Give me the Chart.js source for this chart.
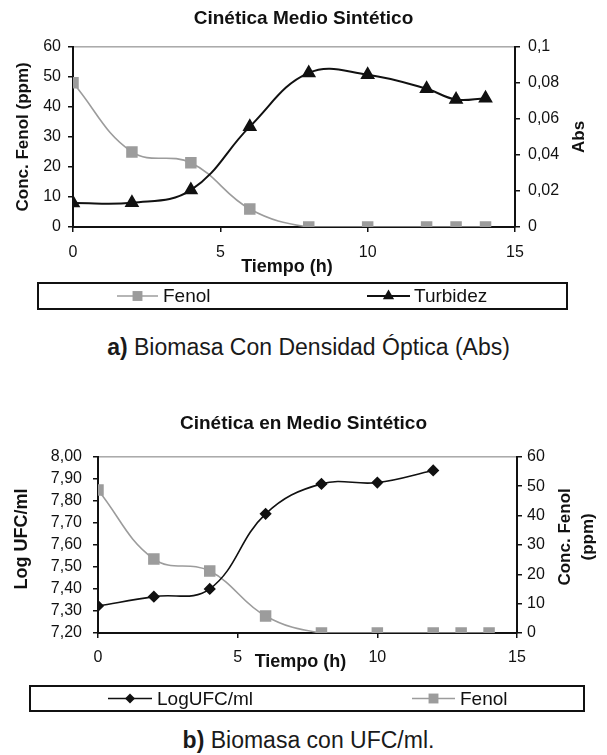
<!DOCTYPE html>
<html>
<head>
<meta charset="utf-8">
<script src="https://cdn.jsdelivr.net/npm/chart.js@4.4.1/dist/chart.umd.min.js"></script>
<style>
    body { margin: 0; background: #fff; }
    #page { position: relative; width: 607px; height: 755px; font-family: 'Liberation Sans', Arial, sans-serif; color: #1a1a1a; }
    .wrap { position: absolute; left: 0; width: 607px; }
    #wrapA { top: 0; height: 320px; }
    #wrapB { top: 390px; height: 335px; }
    .caption { position: absolute; left: 10px; width: 597px; text-align: center; font-size: 23px; line-height: 26px; }
</style>
</head>
<body>
<div id="page">
    <div class="wrap" id="wrapA"><canvas id="chartA" width="607" height="320"></canvas></div>
    <div class="caption" style="top:334px"><b>a)</b> Biomasa Con Densidad Óptica (Abs)</div>
    <div class="wrap" id="wrapB"><canvas id="chartB" width="607" height="335"></canvas></div>
    <div class="caption" style="top:727px"><b>b)</b> Biomasa con UFC/ml.</div>
</div>
<script>
// chart a) - turbidity
const timeA = [0, 2, 4, 6, 8, 10, 12, 13, 14];
const fenolA = [48, 25, 21.4, 6, 0, 0, 0, 0, 0];
const turbidezA = [0.0133, 0.0135, 0.0205, 0.0557, 0.0855, 0.0845, 0.0767, 0.0707, 0.0715];

// chart b) - UFC counts
const timeB = [0, 2, 4, 6, 8, 10, 12, 13, 14];
const logUfcB = [7.323, 7.365, 7.400, 7.741, 7.877, 7.883, 7.938];
const fenolB = [48.7, 25.2, 21.1, 5.8, 0, 0, 0, 0, 0];

const timeTicks = [0, 5, 10, 15];
const logUfcTicks = [7.2, 7.3, 7.4, 7.5, 7.6, 7.7, 7.8, 7.9, 8.0];

const FONT = "'Liberation Sans', Arial, sans-serif";
const GRAY = '#9c9c9c';

Chart.defaults.font.family = FONT;
Chart.defaults.color = '#111';

function toPoints(xs, ys) {
    return ys.map((y, i) => ({ x: xs[i], y: y }));
}

function comma(v, digits) {
    return (digits === undefined ? String(+v.toFixed(2)) : v.toFixed(digits)).replace('.', ',');
}

function drawMarker(ctx, style, x, y, r, color) {
    ctx.fillStyle = color;
    ctx.beginPath();
    if (style === 'rect') {
        const s = r * Math.SQRT1_2;
        ctx.rect(x - s, y - s, 2 * s, 2 * s);
    } else if (style === 'triangle') {
        for (let k = 0; k < 3; k++) {
            const a = k * 2 * Math.PI / 3;
            ctx[k ? 'lineTo' : 'moveTo'](x + Math.sin(a) * r, y - Math.cos(a) * r);
        }
        ctx.closePath();
    } else {
        ctx.moveTo(x - r, y);
        ctx.lineTo(x, y - r);
        ctx.lineTo(x + r, y);
        ctx.lineTo(x, y + r);
        ctx.closePath();
    }
    ctx.fill();
}

// thin gray plot border, the axes are drawn on top of it
const plotFrame = {
    id: 'plotFrame',
    beforeDraw(chart) {
        const { ctx, chartArea: a } = chart;
        ctx.save();
        ctx.strokeStyle = '#a8a8a8';
        ctx.lineWidth = 1.5;
        ctx.strokeRect(a.left, a.top, a.right - a.left, a.bottom - a.top);
        ctx.restore();
    }
};

// axis titles placed relative to the chart area
const axisTitles = {
    id: 'axisTitles',
    afterDraw(chart, args, opts) {
        const { ctx, chartArea: a } = chart;
        ctx.save();
        ctx.fillStyle = '#111';
        ctx.textAlign = 'center';
        ctx.textBaseline = 'middle';
        opts.items.forEach(t => {
            const x = (t.from === 'left' ? a.left : t.from === 'right' ? a.right : (a.left + a.right) / 2) + t.dx;
            const y = (t.fromY === 'bottom' ? a.bottom : (a.top + a.bottom) / 2) + t.dy;
            const lines = [].concat(t.text);
            ctx.font = 'bold ' + t.size + 'px ' + FONT;
            ctx.translate(x, y);
            ctx.rotate((t.rotate || 0) * Math.PI / 180);
            lines.forEach((line, i) => ctx.fillText(line, 0, (i - (lines.length - 1) / 2) * t.size * 1.35));
            ctx.setTransform(1, 0, 0, 1, 0, 0);
        });
        ctx.restore();
    }
};

// legend inside a framed box, like the spreadsheet one
const boxLegend = {
    id: 'boxLegend',
    afterDraw(chart, args, opts) {
        const ctx = chart.ctx;
        const b = opts.box;
        const y = (b.top + b.bottom) / 2;
        ctx.save();
        ctx.strokeStyle = '#111';
        ctx.lineWidth = 2;
        ctx.strokeRect(b.left, b.top, b.right - b.left, b.bottom - b.top);
        ctx.font = opts.size + 'px ' + FONT;
        ctx.textBaseline = 'middle';
        opts.items.forEach(item => {
            const ds = chart.data.datasets[item.dataset];
            ctx.strokeStyle = ds.borderColor;
            ctx.lineWidth = ds.borderWidth;
            ctx.beginPath();
            ctx.moveTo(item.from, y);
            ctx.lineTo(item.to, y);
            ctx.stroke();
            drawMarker(ctx, ds.pointStyle, (item.from + item.to) / 2, y, ds.pointRadius, ds.pointBackgroundColor);
            ctx.fillStyle = '#111';
            ctx.fillText(ds.label, item.textX, y + 1);
        });
        ctx.restore();
    }
};

function axisStyle(extra) {
    return Object.assign({
        grid: { drawOnChartArea: false, drawTicks: true, tickLength: 5, color: '#111', lineWidth: 1.5 },
        border: { color: '#111', width: 2 }
    }, extra);
}

function makeChart(id, cfg) {
    return new Chart(document.getElementById(id), {
        type: 'line',
        data: { datasets: cfg.datasets },
        options: {
            responsive: false,
            animation: false,
            layout: { padding: 0 },
            plugins: {
                legend: { display: false },
                tooltip: { enabled: false },
                title: {
                    display: true,
                    text: cfg.title,
                    font: { size: 19, weight: 'bold' },
                    color: '#111',
                    padding: cfg.titlePadding
                },
                axisTitles: { items: cfg.axisTitles },
                boxLegend: cfg.legend
            },
            scales: {
                x: axisStyle({
                    type: 'linear',
                    min: 0,
                    max: 15,
                    afterBuildTicks: s => { s.ticks = timeTicks.map(v => ({ value: v })); },
                    ticks: { font: { size: 16 }, padding: cfg.xPad, autoSkip: false },
                    afterFit: s => { s.height = cfg.xHeight; }
                }),
                y: axisStyle(Object.assign({
                    position: 'left',
                    afterFit: s => { s.width = cfg.leftWidth; }
                }, cfg.left)),
                y1: axisStyle(Object.assign({
                    position: 'right',
                    afterFit: s => { s.width = cfg.rightWidth; }
                }, cfg.right))
            }
        },
        plugins: [plotFrame, axisTitles, boxLegend]
    });
}

const fenolStyle = {
    borderColor: GRAY,
    backgroundColor: GRAY,
    pointBackgroundColor: GRAY,
    pointBorderColor: GRAY,
    borderWidth: 1.6,
    pointStyle: 'rect',
    pointRadius: 7,
    tension: 0.4
};

makeChart('chartA', {
    title: 'Cinética Medio Sintético',
    titlePadding: { top: 7, bottom: 17 },
    leftWidth: 73,
    rightWidth: 92,
    xHeight: 93,
    xPad: 11,
    datasets: [
        Object.assign({ label: 'Fenol', data: toPoints(timeA, fenolA), yAxisID: 'y', order: 2 }, fenolStyle),
        {
            label: 'Turbidez',
            data: toPoints(timeA, turbidezA),
            yAxisID: 'y1',
            order: 1,
            borderColor: '#111',
            backgroundColor: '#111',
            pointBackgroundColor: '#111',
            pointBorderColor: '#111',
            borderWidth: 2,
            pointStyle: 'triangle',
            pointRadius: 6.5,
            tension: 0.4
        }
    ],
    left: {
        min: 0, max: 60,
        ticks: { stepSize: 10, font: { size: 16 }, padding: 7, autoSkip: false }
    },
    right: {
        min: 0, max: 0.1,
        ticks: { stepSize: 0.02, font: { size: 16 }, padding: 8, autoSkip: false, callback: v => comma(v) }
    },
    axisTitles: [
        { text: 'Conc. Fenol (ppm)', size: 17, from: 'left', dx: -50, dy: 0, rotate: -90 },
        { text: 'Abs', size: 17, from: 'right', dx: 64, dy: 0, rotate: -90 },
        { text: 'Tiempo (h)', size: 18, from: 'center', dx: -7, fromY: 'bottom', dy: 40 }
    ],
    legend: {
        box: { left: 38, top: 283, right: 567, bottom: 309 },
        size: 19,
        items: [
            { dataset: 0, from: 117, to: 158, textX: 163 },
            { dataset: 1, from: 367, to: 410, textX: 414 }
        ]
    }
});

makeChart('chartB', {
    title: 'Cinética en Medio Sintético',
    titlePadding: { top: 22, bottom: 22 },
    leftWidth: 98,
    rightWidth: 90,
    xHeight: 92,
    xPad: 10,
    datasets: [
        {
            label: 'LogUFC/ml',
            data: toPoints(timeB, logUfcB),
            yAxisID: 'y',
            order: 1,
            borderColor: '#111',
            backgroundColor: '#111',
            pointBackgroundColor: '#111',
            pointBorderColor: '#111',
            borderWidth: 1.6,
            pointStyle: 'rectRot',
            pointRadius: 5,
            tension: 0.4
        },
        Object.assign({ label: 'Fenol', data: toPoints(timeB, fenolB), yAxisID: 'y1', order: 2 }, fenolStyle)
    ],
    left: {
        min: 7.2, max: 8.0,
        afterBuildTicks: s => { s.ticks = logUfcTicks.map(v => ({ value: v })); },
        ticks: { font: { size: 16 }, padding: 11, autoSkip: false, callback: v => comma(v, 2) }
    },
    right: {
        min: 0, max: 60,
        ticks: { stepSize: 10, font: { size: 16 }, padding: 5, autoSkip: false }
    },
    axisTitles: [
        { text: 'Log UFC/ml', size: 18, from: 'left', dx: -76, dy: -6, rotate: -90 },
        { text: ['Conc. Fenol', '(ppm)'], size: 17, from: 'right', dx: 60, dy: -8, rotate: -90 },
        { text: 'Tiempo (h)', size: 18, from: 'center', dx: -7, fromY: 'bottom', dy: 29 }
    ],
    legend: {
        box: { left: 30, top: 296, right: 584, bottom: 321 },
        size: 19,
        items: [
            { dataset: 0, from: 108, to: 152, textX: 157 },
            { dataset: 1, from: 412, to: 455, textX: 460 }
        ]
    }
});
</script>
</body>
</html>
